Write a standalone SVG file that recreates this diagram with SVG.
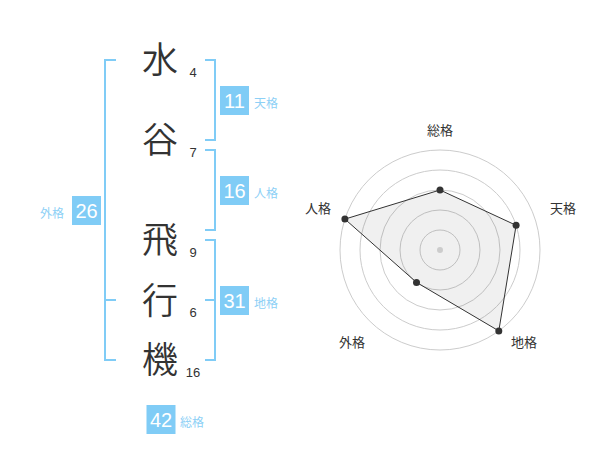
<svg xmlns="http://www.w3.org/2000/svg" width="600" height="470" viewBox="0 0 600 470">
<style>
.kanji{font-family:"Noto Sans CJK JP","Noto Sans CJK SC",sans-serif;font-size:36px;font-weight:350;fill:#333;text-anchor:middle}
.num{font-family:"Liberation Sans",Arial,sans-serif;font-size:13px;fill:#333;text-anchor:middle}
.box{fill:#80ccf6}
.boxt{font-family:"Liberation Sans",Arial,sans-serif;font-size:20px;fill:#fff;text-anchor:middle}
.lbl{font-family:"Noto Sans CJK JP","Noto Sans CJK SC",sans-serif;font-size:12px;fill:#8dd0f6}
.br{fill:none;stroke:#80ccf6;stroke-width:2}
.ring{fill:none;stroke:#cccccc;stroke-width:1}
.rl{font-family:"Noto Sans CJK JP","Noto Sans CJK SC",sans-serif;font-size:13px;fill:#333;text-anchor:middle}
.dot{fill:#333}
</style>
<rect width="600" height="470" fill="#fff"/>
<g id="chars">
<text class="kanji" x="160" y="73">水</text>
<text class="kanji" x="160" y="153">谷</text>
<text class="kanji" x="160" y="253">飛</text>
<text class="kanji" x="160" y="314">行</text>
<text class="kanji" x="160" y="373">機</text>
<text class="num" x="193" y="77">4</text>
<text class="num" x="193" y="157">7</text>
<text class="num" x="193" y="257">9</text>
<text class="num" x="193" y="317">6</text>
<text class="num" x="193" y="377">16</text>
</g>
<g id="connectors">
<path class="br" d="M116,60 H105 V360 H116 M105,300 H116"/>
<path class="br" d="M205,60 H215 V140 H205"/>
<path class="br" d="M205,150 H215 V230 H205"/>
<path class="br" d="M205,240 H215 V360 H205 M205,300 H215"/>
</g>
<g id="tenkaku">
<rect class="box" x="220" y="86" width="29" height="29"/>
<text class="boxt" x="234.5" y="107.5">11</text>
<text class="lbl" x="254" y="108">天格</text>
</g>
<g id="jinkaku">
<rect class="box" x="220" y="176" width="29" height="29"/>
<text class="boxt" x="234.5" y="197.5">16</text>
<text class="lbl" x="254" y="198">人格</text>
</g>
<g id="chikaku">
<rect class="box" x="220" y="286" width="29" height="29"/>
<text class="boxt" x="234.5" y="307.5">31</text>
<text class="lbl" x="254" y="308">地格</text>
</g>
<g id="gaikaku">
<rect class="box" x="72" y="196" width="29" height="29"/>
<text class="boxt" x="86.5" y="217.5">26</text>
<text class="lbl" x="40" y="218">外格</text>
</g>
<g id="soukaku">
<rect class="box" x="146.5" y="405" width="29" height="29"/>
<text class="boxt" x="161" y="426.5">42</text>
<text class="lbl" x="180" y="427">総格</text>
</g>
<g id="radar">
<circle class="ring" cx="440" cy="250" r="20"/>
<circle class="ring" cx="440" cy="250" r="40"/>
<circle class="ring" cx="440" cy="250" r="60"/>
<circle class="ring" cx="440" cy="250" r="80"/>
<circle class="ring" cx="440" cy="250" r="100"/>
<polygon points="440,190 516.1,225.3 498.8,330.9 416.5,282.4 344.9,219.1" fill="#000" fill-opacity="0.06" stroke="#333" stroke-width="1"/>
<circle cx="440" cy="250" r="3" fill="#ccc"/>
<circle class="dot" cx="440" cy="190" r="3.5"/>
<circle class="dot" cx="516.1" cy="225.3" r="3.5"/>
<circle class="dot" cx="498.8" cy="330.9" r="3.5"/>
<circle class="dot" cx="416.5" cy="282.4" r="3.5"/>
<circle class="dot" cx="344.9" cy="219.1" r="3.5"/>
<text class="rl" x="440" y="135">総格</text>
<text class="rl" x="563" y="213">天格</text>
<text class="rl" x="524" y="347">地格</text>
<text class="rl" x="352" y="347">外格</text>
<text class="rl" x="318" y="213">人格</text>
</g>
</svg>
